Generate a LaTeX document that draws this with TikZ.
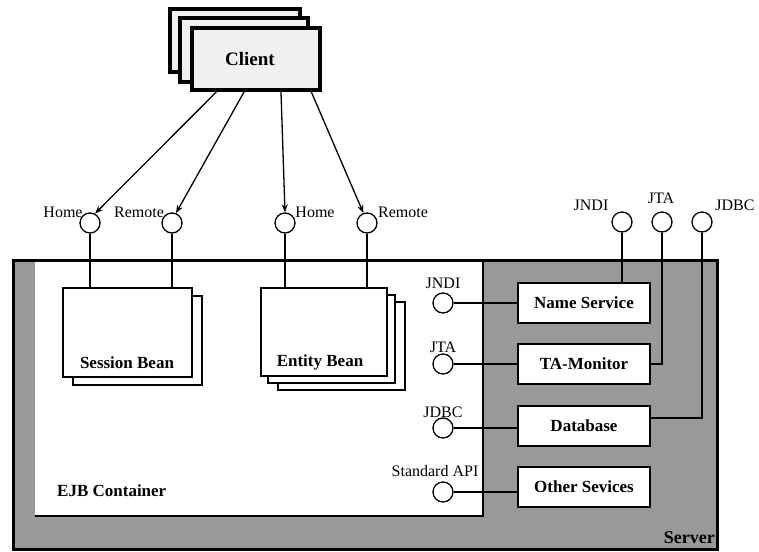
\documentclass[tikz,border=0pt]{standalone}
\usepackage{fontspec}
\setmainfont{Liberation Serif}
\usetikzlibrary{arrows.meta,calc}
\tikzset{
 lbl/.style={font=\fontsize{16}{18}\selectfont, inner sep=0, anchor=base},
 blbl/.style={font=\fontsize{17}{19}\selectfont\bfseries, inner sep=0, anchor=base},
 iface/.style={circle, draw, line width=1.3pt, minimum size=20pt, inner sep=0, fill=white},
 svc/.style={draw, line width=1.8pt, fill=white, minimum width=132pt, minimum height=40pt, inner sep=0, font=\fontsize{17}{19}\selectfont\bfseries},
 bean/.style={draw, line width=1.5pt, fill=white, inner sep=0},
 clientbox/.style={draw, line width=3.5pt, fill=black!6, inner sep=0, minimum width=128pt, minimum height=62pt},
 wire/.style={line width=1.3pt},
 call/.style={line width=1.3pt, -{Stealth[length=8pt,width=6pt]}},
}
\begin{document}
\begin{tikzpicture}[x=1pt,y=-1pt]
\useasboundingbox (0,0) rectangle (759,551);
% server and container
\draw[line width=3pt, fill=black!40] (13,260) rectangle (717,549);
\fill[white] (34.5,261.5) rectangle (483,516);
\draw[line width=2pt] (483,261.5) -- (483,516) -- (34.5,516);
\node[lbl, font=\fontsize{18}{20}\selectfont\bfseries, anchor=base east] (srvlbl) at (715,543) {Server};
\node[blbl, anchor=base west] (ejblbl) at (57,496) {EJB Container};

% client stack
\node[clientbox, minimum width=130pt, minimum height=63pt] (c3) at (235,40.5) {};
\node[clientbox, minimum height=64pt] (c2) at (244,50) {};
\node[clientbox] (client) at (256,59) {};
\node[blbl, font=\fontsize{19}{21}\selectfont\bfseries] (clientlbl) at (250,66) {Client};

% beans
\node[bean, minimum width=129pt, minimum height=89pt] (sb2) at (137.5,340.5) {};
\node[bean, minimum width=129pt, minimum height=89pt] (sb) at (127.5,332.5) {};
\node[blbl] (sblbl) at (127,368) {Session Bean};
\node[bean, minimum width=127pt, minimum height=88pt] (eb3) at (341.5,346) {};
\node[bean, minimum width=127pt, minimum height=88pt] (eb2) at (331.5,339) {};
\node[bean, minimum width=126pt, minimum height=88pt] (eb) at (324,332) {};
\node[blbl] (eblbl) at (320,366) {Entity Bean};

% external bean interfaces
\node[iface] (h1) at (90,223) {};
\node[iface] (r1) at (172,223) {};
\node[iface] (h2) at (285,223) {};
\node[iface] (r2) at (367,223) {};
\node[lbl] (h1l) at (63,217.5) {Home};
\node[lbl] (r1l) at (139,217.5) {Remote};
\node[lbl] (h2l) at (315,217.5) {Home};
\node[lbl] (r2l) at (403,217.5) {Remote};
\draw[wire] (h1.south) -- (h1.south |- sb.north);
\draw[wire] (r1.south) -- (r1.south |- sb.north);
\draw[wire] (h2.south) -- (h2.south |- eb.north);
\draw[wire] (r2.south) -- (r2.south |- eb.north);

% calls from client
\draw[call] ($(client.south west)!0.2!(client.south east)$) -- (h1.62);
\draw[call] ($(client.south west)!0.41!(client.south east)$) -- (r1.68);
\draw[call] ($(client.south west)!0.69!(client.south east)$) -- (h2.north);
\draw[call] ($(client.south west)!0.92!(client.south east)$) -- (r2.110);

% services
\node[svc] (ns) at (584,303) {Name Service};
\node[svc] (tam) at (584,364) {TA-Monitor};
\node[svc] (db) at (584,426) {Database};
\node[svc] (os) at (584,487) {Other Sevices};

% internal interfaces
\node[iface] (ijndi) at (443,303) {};
\node[iface] (ijta) at (443,364) {};
\node[iface] (ijdbc) at (443,428) {};
\node[iface] (iapi) at (443,492) {};
\node[lbl] (ijndil) at (443,288.5) {JNDI};
\node[lbl] (ijtal) at (443,352.5) {JTA};
\node[lbl] (ijdbcl) at (443,417.5) {JDBC};
\node[lbl] (iapil) at (435,476.5) {Standard API};
\draw[wire] (ijndi.east) -- (ijndi.east -| ns.west);
\draw[wire] (ijta.east) -- (ijta.east -| tam.west);
\draw[wire] (ijdbc.east) -- (ijdbc.east -| db.west);
\draw[wire] (iapi.east) -- (iapi.east -| os.west);

% external server interfaces
\node[iface] (ejndi) at (622,222) {};
\node[iface] (ejta) at (662,222) {};
\node[iface] (ejdbc) at (702,222) {};
\node[lbl] (ejndil) at (591,210.5) {JNDI};
\node[lbl] (ejtal) at (661,203.5) {JTA};
\node[lbl] (ejdbcl) at (735,210.5) {JDBC};
\draw[wire] (ejndi.south) -- (ejndi.south |- ns.north);
\draw[wire] (ejta.south) |- (tam.east);
\draw[wire] (ejdbc.south) |- ($(db.east)+(0,-8)$);
\end{tikzpicture}
\end{document}
